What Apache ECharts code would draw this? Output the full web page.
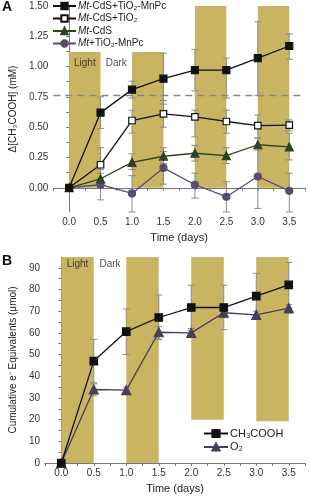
<!DOCTYPE html>
<html><head><meta charset="utf-8">
<script src="https://cdn.jsdelivr.net/npm/echarts@6/dist/echarts.min.js"></script>
<style>html,body{margin:0;padding:0;background:#fff}#c{width:309px;height:496px}</style>
</head><body><div id="c"></div>
<script>
const days = [0, 0.5, 1, 1.5, 2, 2.5, 3, 3.5];
const xTicks = ['0.0','0.5','1.0','1.5','2.0','2.5','3.0','3.5'];
const aTicks = [0, 0.25, 0.5, 0.75, 1.0, 1.25, 1.5];
const bTicks = [0, 10, 20, 30, 40, 50, 60, 70, 80, 90];
// Panel A
const a1 = [0, 0.62, 0.81, 0.90, 0.97, 0.97, 1.07, 1.17];
const a1Lo = [0, 0.49, 0.74, 0.69, 0.80, 0.74, 0.76, 1.06];
const a1Hi = [0, 0.75, 0.88, 1.11, 1.14, 1.07, 1.37, 1.27];
const a2 = [0, 0.19, 0.555, 0.61, 0.585, 0.547, 0.512, 0.517];
const a2Lo = [0, 0.08, 0.45, 0.50, 0.42, 0.45, 0.41, 0.47];
const a2Hi = [0, 0.33, 0.64, 0.72, 0.64, 0.64, 0.60, 0.56];
const a3 = [0, 0.074, 0.21, 0.26, 0.285, 0.265, 0.355, 0.337];
const a3Lo = [0, 0.0, 0.15, 0.20, 0.22, 0.20, 0.31, 0.23];
const a3Hi = [0, 0.15, 0.28, 0.33, 0.35, 0.33, 0.41, 0.45];
const a4 = [0, 0.025, -0.047, 0.164, 0.025, -0.074, 0.093, -0.025];
const a4Lo = [0, -0.10, -0.20, 0.03, -0.085, -0.20, -0.17, -0.20];
const a4Hi = [0, 0.12, 0.10, 0.30, 0.12, 0.05, 0.33, 0.12];
const aNames = ['Mt-CdS+TiO₂-MnPc', 'Mt-CdS+TiO₂', 'Mt-CdS', 'Mt+TiO₂-MnPc'];
const aRef = 0.76;
const lightStart = [0, 1, 2, 3];
const lightEnd = [0.5, 1.5, 2.5, 3.5];
const aBandLo = [0, 0, 0, 0];
const aBandHi = [1.12, 1.12, 1.5, 1.5];
// Panel B
const b1 = [0, 47, 60.6, 67.1, 71.7, 71.7, 77, 82.1];
const b1Lo = [0, 37, 50, 57, 61, 61.5, 66.5, 71.5];
const b1Hi = [0, 57, 71, 77.5, 82, 82, 87.5, 92.5];
const b2 = [0, 33.9, 33.6, 60.3, 60.0, 69.3, 68.3, 71.4];
const b2Lo = [0, 31, 32, 57, 58, 67, 66.5, 69];
const b2Hi = [0, 36.5, 35, 63, 62, 71, 70, 73];
const bNames = ['CH₃COOH', 'O₂'];
const bBandLo = [0, 0, 20, 19.3];
const bBandHi = [95, 95, 95, 95];

const FONT = 'Liberation Sans, Arial, sans-serif';
const BAND = '#c9b462';
const ERR = '#8a8a8a';

function zip(xs, ys){ return xs.map((x,i)=>[x, ys[i]]); }
function bands(lo, hi){ return lightStart.map((s,i)=>[s, lightEnd[i], lo[i], hi[i]]); }
function errs(lo, hi){ return days.map((d,i)=>[d, lo[i], hi[i]]); }
function halfSteps(t){ const out=[]; t.forEach((v,i)=>{ out.push(v); if(i<t.length-1) out.push((v+t[i+1])/2); }); return out; }

function bandRender(params, api){
  const p0 = api.coord([api.value(0), api.value(3)]);
  const p1 = api.coord([api.value(1), api.value(2)]);
  return {type:'rect', shape:{x:p0[0], y:p0[1], width:p1[0]-p0[0], height:p1[1]-p0[1]}, style:{fill:BAND}};
}
function errRender(params, api){
  const x = api.value(0);
  const hi = api.coord([x, api.value(2)]);
  const lo = api.coord([x, api.value(1)]);
  const w = 3.5;
  const st = {stroke: ERR, lineWidth: 1};
  return {type:'group', children:[
    {type:'line', shape:{x1:hi[0], y1:hi[1], x2:lo[0], y2:lo[1]}, style:st},
    {type:'line', shape:{x1:hi[0]-w, y1:hi[1], x2:hi[0]+w, y2:hi[1]}, style:st},
    {type:'line', shape:{x1:lo[0]-w, y1:lo[1], x2:lo[0]+w, y2:lo[1]}, style:st}
  ]};
}

function xAxis(gi){
  return {
    type:'value', gridIndex:gi, min:-0.25, max:3.75, interval:0.25,
    name:'Time (days)', nameLocation:'middle', nameGap:20,
    nameTextStyle:{fontFamily:FONT, fontSize:11, color:'#222'},
    axisLine:{lineStyle:{color:'#777', width:1}},
    axisTick:{length:3, lineStyle:{color:'#777'}},
    splitLine:{show:false},
    axisLabel:{fontFamily:FONT, fontSize:10, color:'#333', margin:5,
      formatter:v=>{ const k = Math.round(v*2); if (Math.abs(v*2-k)>1e-6 || k<0 || k>7) return ''; return xTicks[k]; }}
  };
}
function yAxis(gi, min, max, ticks, name, gap, fmt){
  return {
    type:'value', gridIndex:gi, min, max,
    name, nameLocation:'middle', nameGap:gap,
    nameTextStyle:{fontFamily:FONT, fontSize:10, color:'#222'},
    axisLine:{show:true, lineStyle:{color:'#777'}},
    axisTick:{show:true, length:3, lineStyle:{color:'#777'}, customValues:halfSteps(ticks)},
    splitLine:{show:false},
    axisLabel:{fontFamily:FONT, fontSize:10, color:'#333', margin:5, customValues:ticks, formatter:fmt}
  };
}

const labelSeries = (gi, pts) => ({
  type:'scatter', xAxisIndex:gi, yAxisIndex:gi, symbolSize:0, silent:true, z:3,
  data: pts,
  label:{show:true, position:'inside', formatter:p=>p.data[2], fontFamily:FONT, fontSize:10, color:'#222'}
});

const lineSeries = (gi, name, ys, sym, color, fill, size) => ({
  type:'line', name, xAxisIndex:gi, yAxisIndex:gi, data:zip(days, ys), z:5,
  symbol:sym, symbolSize:size, showSymbol:true,
  lineStyle:{color, width:1.3},
  itemStyle:{color:fill, borderColor:color, borderWidth:1.2},
  emphasis:{disabled:true}
});

const errSeries = (gi, lo, hi) => ({
  type:'custom', xAxisIndex:gi, yAxisIndex:gi, renderItem:errRender, data:errs(lo, hi),
  encode:{x:0, y:[1,2]}, z:4, silent:true
});

const option = {
  animation:false,
  textStyle:{fontFamily:FONT},
  grid:[
    {left:41, right:4, top:6, bottom:284},
    {left:41, right:4, top:257, bottom:33}
  ],
  xAxis:[xAxis(0), xAxis(1)],
  yAxis:[
    yAxis(0, -0.2, 1.5, aTicks, 'Δ[CH₃COOH] (mM)', 33, v=>v.toFixed(2)),
    yAxis(1, 0, 95, bTicks, 'Cumulative e⁻ Equivalents (μmol)', 27, v=>String(v))
  ],
  legend:[
    {orient:'vertical', left:52, top:0, padding:0, itemWidth:23, itemHeight:8, itemGap:0.5,
     data:aNames,
     textStyle:{fontFamily:FONT, fontSize:10, color:'#222', lineHeight:12, padding:[0,0,0,-3],
       rich:{i:{fontStyle:'italic', fontFamily:FONT, fontSize:10, color:'#222', lineHeight:12}}},
     formatter:n=>'{i|Mt}' + n.slice(2)},
    {orient:'vertical', left:203, top:427, padding:0, itemWidth:24, itemHeight:9, itemGap:0.5,
     data:bNames, textStyle:{fontFamily:FONT, fontSize:11, color:'#222', lineHeight:13, padding:[0,0,0,-3]}}
  ],
  graphic:[
    {type:'text', left:2, top:0, style:{text:'A', font:'bold 14px '+FONT, fill:'#111'}},
    {type:'text', left:2, top:254, style:{text:'B', font:'bold 14px '+FONT, fill:'#111'}}
  ],
  series:[
    {type:'custom', xAxisIndex:0, yAxisIndex:0, renderItem:bandRender, data:bands(aBandLo, aBandHi),
     encode:{x:[0,1], y:[2,3]}, z:1, silent:true,
     markLine:{silent:true, symbol:'none', label:{show:false},
       lineStyle:{color:'#888', type:[7,5], width:1.3}, data:[{yAxis:aRef}]}},
    {type:'custom', xAxisIndex:1, yAxisIndex:1, renderItem:bandRender, data:bands(bBandLo, bBandHi),
     encode:{x:[0,1], y:[2,3]}, z:1, silent:true},
    labelSeries(0, [[0.25, 1.03, 'Light'], [0.75, 1.03, 'Dark']]),
    labelSeries(1, [[0.25, 91.7, 'Light'], [0.75, 91.7, 'Dark']]),
    errSeries(0, a1Lo, a1Hi), errSeries(0, a2Lo, a2Hi), errSeries(0, a3Lo, a3Hi), errSeries(0, a4Lo, a4Hi),
    errSeries(1, b1Lo, b1Hi), errSeries(1, b2Lo, b2Hi),
    lineSeries(0, aNames[3], a4, 'circle', '#5a4a6c', '#5a4a6c', 7),
    lineSeries(0, aNames[2], a3, 'triangle', '#2c4420', '#2c4420', 8),
    lineSeries(0, aNames[1], a2, 'rect', '#111', '#fff', 6.5),
    lineSeries(0, aNames[0], a1, 'rect', '#111', '#111', 7),
    lineSeries(1, bNames[1], b2, 'triangle', '#4a3d5a', '#4a3d5a', 9),
    lineSeries(1, bNames[0], b1, 'rect', '#111', '#111', 7.5)
  ]
};
const chart = echarts.init(document.getElementById('c'), null, {renderer:'canvas'});
chart.setOption(option);
</script></body></html>
